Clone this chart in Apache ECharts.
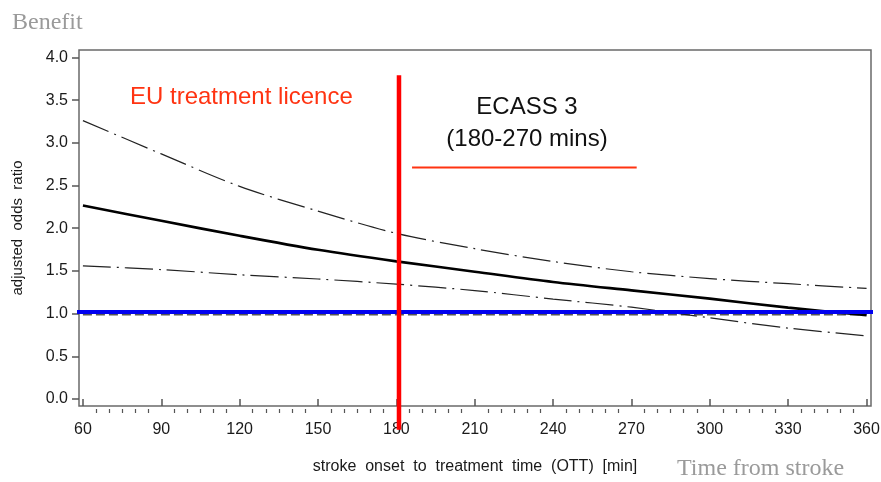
<!DOCTYPE html>
<html>
<head>
<meta charset="utf-8">
<script src="https://cdn.jsdelivr.net/npm/echarts@6/dist/echarts.min.js"></script>
<style>
html,body{margin:0;padding:0;background:#fff;}
#chart{width:881px;height:482px;}
</style>
</head>
<body>
<div id="chart"></div>
<script>
// ---- data ----
var ott = [60, 90, 120, 150, 180, 210, 240, 270, 300, 330, 360];
var orMid = [2.265, 2.087, 1.911, 1.747, 1.612, 1.491, 1.371, 1.272, 1.175, 1.07, 0.98];
var orUpper = [3.26, 2.87, 2.49, 2.20, 1.94, 1.76, 1.61, 1.49, 1.41, 1.35, 1.295];
var orLower = [1.56, 1.515, 1.455, 1.405, 1.345, 1.27, 1.17, 1.075, 0.95, 0.83, 0.74];
var xTickLabels = [60, 90, 120, 150, 180, 210, 240, 270, 300, 330, 360];
var xMinorTicks = [65,70,75,80,85,95,100,105,110,115,125,130,135,140,145,155,160,165,170,175,185,190,195,200,205,215,220,225,230,235,245,250,255,260,265,275,280,285,290,295,305,310,315,320,325,335,340,345,350,355];
var yTickLabels = [0, 0.5, 1.0, 1.5, 2.0, 2.5, 3.0, 3.5, 4.0];
var refOR = 1.0;               // null line (dashed)
var refX = [60, 360];
var benefitLineY = 1.02;       // blue line
var benefitLineX = [57.3, 364.2];
var euLicenceX = 181;          // red vertical line
var euLicenceY = [3.79, -0.36];
var ecassX = [186, 272];       // orange bar under ECASS 3
var ecassY = 2.71;

function pairs(xs, ys) { return xs.map(function (x, i) { return [x, ys[i]]; }); }

var chart = echarts.init(document.getElementById('chart'), null, {renderer: 'canvas'});
var axisFont = 'Liberation Sans, Arial, Helvetica, sans-serif';
var option = {
  animation: false,
  backgroundColor: '#fff',
  grid: {
    left: 79, right: 10, top: 50, bottom: 76,
    show: true, borderColor: '#6a6a6a', borderWidth: 1.5,
    containLabel: false, outerBoundsMode: 'none'
  },
  xAxis: [{
    type: 'value', min: 58.5, max: 361.7, position: 'bottom', offset: 3,
    axisLine: {show: false},
    splitLine: {show: false},
    axisTick: {show: true, customValues: xTickLabels, length: 7, lineStyle: {color: '#555', width: 1.5}},
    axisLabel: {customValues: xTickLabels, margin: 13, fontSize: 16, color: '#1a1a1a', fontFamily: axisFont},
    name: 'stroke  onset  to  treatment  time  (OTT)  [min]',
    nameLocation: 'middle', nameGap: 50,
    nameTextStyle: {fontSize: 16, color: '#1a1a1a', fontFamily: axisFont}
  }, {
    type: 'value', min: 58.5, max: 361.7, position: 'bottom', offset: 3,
    axisLine: {show: false},
    splitLine: {show: false},
    axisTick: {show: true, customValues: xMinorTicks, length: 4, lineStyle: {color: '#555', width: 1.2}},
    axisLabel: {show: false}
  }],
  yAxis: {
    type: 'value', min: -0.082, max: 4.087,
    axisLine: {show: false},
    splitLine: {show: false},
    axisTick: {show: true, customValues: yTickLabels, length: 7, lineStyle: {color: '#555', width: 1.5}},
    axisLabel: {customValues: yTickLabels, margin: 11, fontSize: 16, color: '#1a1a1a', fontFamily: axisFont,
      formatter: function (v) { return v.toFixed(1); }},
    name: 'adjusted  odds  ratio',
    nameLocation: 'middle', nameGap: 54, nameRotate: 90,
    nameTextStyle: {fontSize: 15, color: '#1a1a1a', fontFamily: axisFont}
  },
  series: [
    {
      name: 'reference', type: 'line', data: pairs(refX, [refOR - 0.01, refOR - 0.01]),
      symbol: 'none', lineStyle: {color: '#555', width: 2, type: [9, 4]}, z: 2
    },
    {
      name: 'upper', type: 'line', data: pairs(ott, orUpper), smooth: 0.3,
      symbol: 'none', lineStyle: {color: '#222', width: 1.2, type: [28, 6, 2, 6]}, z: 3
    },
    {
      name: 'lower', type: 'line', data: pairs(ott, orLower), smooth: 0.3,
      symbol: 'none', lineStyle: {color: '#222', width: 1.2, type: [28, 6, 2, 6]}, z: 3
    },
    {
      name: 'adjusted OR', type: 'line', data: pairs(ott, orMid), smooth: 0.3,
      symbol: 'none', lineStyle: {color: '#000', width: 2.6}, z: 4
    },
    {
      name: 'benefit line', type: 'line', data: pairs(benefitLineX, [benefitLineY, benefitLineY]),
      symbol: 'none', clip: false, lineStyle: {color: '#0000f0', width: 4}, z: 5
    },
    {
      name: 'EU licence', type: 'line', data: [[euLicenceX, euLicenceY[0]], [euLicenceX, euLicenceY[1]]],
      symbol: 'none', clip: false, lineStyle: {color: '#ff0000', width: 4.5}, z: 6
    },
    {
      name: 'ECASS 3', type: 'line', data: pairs(ecassX, [ecassY, ecassY]),
      symbol: 'none', clip: false, lineStyle: {color: '#ff3311', width: 2}, z: 6
    }
  ],
  graphic: [
    {type: 'text', left: 12, top: 11, style: {text: 'Benefit', font: '24px "Liberation Serif", "Times New Roman", serif', fill: '#9a9a9a'}},
    {type: 'text', left: 677, top: 457, style: {text: 'Time from stroke', font: '24px "Liberation Serif", "Times New Roman", serif', fill: '#9a9a9a'}},
    {type: 'text', left: 130, top: 85, style: {text: 'EU treatment licence', font: '24px "Liberation Sans", Arial, sans-serif', fill: '#ff3311'}},
    {type: 'text', x: 527, y: 107, style: {text: 'ECASS 3', font: '24px "Liberation Sans", Arial, sans-serif', fill: '#111', textAlign: 'center', textVerticalAlign: 'middle'}},
    {type: 'text', x: 527, y: 139, style: {text: '(180-270 mins)', font: '24px "Liberation Sans", Arial, sans-serif', fill: '#111', textAlign: 'center', textVerticalAlign: 'middle'}}
  ]
};
chart.setOption(option);
</script>
</body>
</html>
